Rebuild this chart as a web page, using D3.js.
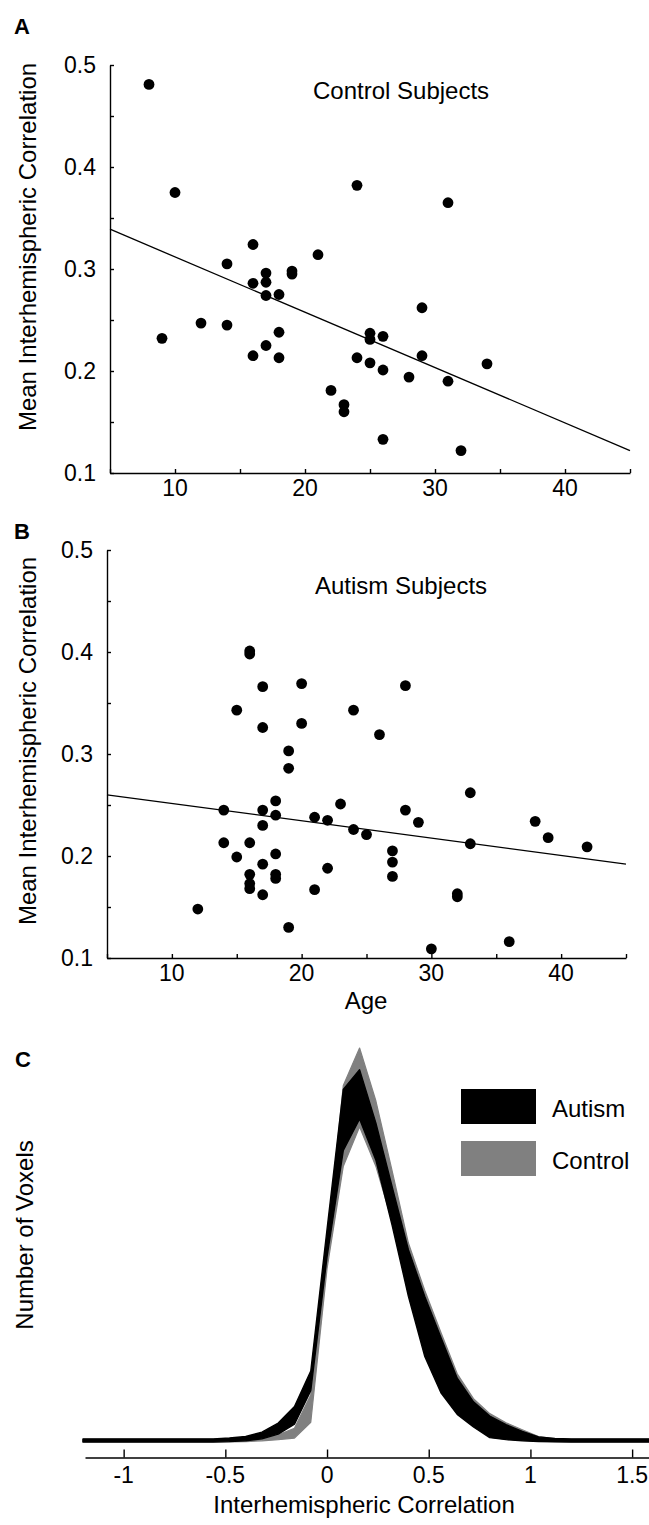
<!DOCTYPE html>
<html><head><meta charset="utf-8">
<script src="https://cdn.jsdelivr.net/npm/d3@7"></script>
<style>
html,body{margin:0;padding:0;background:#fff;}
svg{display:block;}
text{font-family:"Liberation Sans",Arial,Helvetica,sans-serif;fill:#000;}
</style></head>
<body>
<svg id="chart" width="649" height="1525"></svg>
<script>
// ---------- DATA ----------
const controlAge = [8,10,24,31,16,21,14,17,19,19,16,17,17,18,29,12,14,9,18,17,16,18,24,25,25,26,25,26,29,28,31,34,22,23,23,26,32];
const controlCorr = [0.481,0.375,0.382,0.365,0.324,0.314,0.305,0.296,0.298,0.295,0.286,0.287,0.274,0.275,0.262,0.247,0.245,0.232,0.238,0.225,0.215,0.213,0.213,0.237,0.231,0.234,0.208,0.201,0.215,0.194,0.190,0.207,0.181,0.167,0.160,0.133,0.122];
const autismAge = [16,16,17,20,28,15,24,17,20,26,19,19,33,23,18,14,17,28,18,21,22,29,38,17,24,25,39,14,16,33,42,27,18,15,27,17,22,16,18,18,27,16,16,21,17,32,32,12,19,36,30];
const autismCorr = [0.401,0.398,0.366,0.369,0.367,0.343,0.343,0.326,0.330,0.319,0.303,0.286,0.262,0.251,0.254,0.245,0.245,0.245,0.240,0.238,0.235,0.233,0.234,0.230,0.226,0.221,0.218,0.213,0.213,0.212,0.209,0.205,0.202,0.199,0.194,0.192,0.188,0.182,0.182,0.178,0.180,0.173,0.168,0.167,0.162,0.163,0.160,0.148,0.130,0.116,0.109];
// fitted lines: value at age 5 and slope per year
const controlFit = [0.339, -0.005425];
const autismFit = [0.260, -0.0017];

const ageTicks = [10,20,30,40];
const corrTicks = [0.1,0.2,0.3,0.4,0.5];
const histTicks = [-1,-0.5,0,0.5,1,1.5];
const histTickLabels = ["-1","-0.5","0","0.5","1","1.5"];

// histogram envelopes (number of voxels, arbitrary units)
const corrGrid  = [-1.2,-0.56,-0.48,-0.40,-0.32,-0.24,-0.16,-0.08,0,0.08,0.16,0.24,0.32,0.40,0.48,0.56,0.64,0.72,0.80,0.88,0.96,1.04,1.12,1.20,1.60];
const autismLo  = [0,0,0.1,0.3,0.8,2.0,4.5,13,47,74,82,71.6,55,37,21.8,12.5,7,3.8,1.1,0.6,0.3,0.1,0.05,0,0];
const autismHi  = [0.8,0.8,1.0,1.4,2.5,4.8,9,18,54,89.5,94.5,81,64.8,48.8,37,26.5,16.2,10.2,6.6,4.4,2.7,1.3,0.9,0.8,0.8];
const controlLo = [0,0,0,0.1,0.3,0.6,1.0,5,44,70,80,70,56,38,23,13.5,7.5,4.2,1.5,0.8,0.4,0.2,0.1,0,0];
const controlHi = [0.6,0.6,0.7,0.8,1.2,1.8,3.5,12,50,90.5,100,86.6,68.8,50.5,38.5,27.8,17.3,11,7.2,4.9,3.1,1.4,0.8,0.6,0.6];
const legendLabels = ["Autism","Control"];
const legendColors = ["#000000","#808080"];

// ---------- DRAW ----------
const svg = d3.select("#chart");
const FS = 23, TFS = 24;

function scatterPanel(o){
  const x = d3.scaleLinear().domain([5,45]).range([o.x0,o.x1]);
  const y = d3.scaleLinear().domain([0.1,0.5]).range([o.y0,o.y1]);
  const g = svg.append("g");
  const xa = g.append("g").attr("transform",`translate(0,${o.y0})`)
    .call(d3.axisBottom(x).tickValues(d3.range(5,45.1,5)).tickSize(-4).tickSizeOuter(0).tickFormat(""));
  const ya = g.append("g").attr("transform",`translate(${o.x0},0)`)
    .call(d3.axisLeft(y).tickValues(d3.range(0.1,0.501,0.05)).tickSize(-4).tickSizeOuter(0).tickFormat(""));
  [xa,ya].forEach(a=>{a.select(".domain").attr("stroke","#000").attr("stroke-width",1.4);
    a.selectAll(".tick line").attr("stroke","#000").attr("stroke-width",1.4);});
  g.selectAll(".xl").data(ageTicks).join("text").attr("x",d=>x(d)).attr("y",o.y0+23)
    .attr("text-anchor","middle").attr("font-size",FS).text(d=>d);
  g.selectAll(".yl").data(corrTicks).join("text").attr("x",o.x0-14).attr("y",d=>y(d)).attr("dy","0.35em")
    .attr("text-anchor","end").attr("font-size",FS).text(d=>d3.format(".1f")(d));
  const fx=[5,45];
  g.append("line").attr("x1",x(fx[0])).attr("x2",x(fx[1]))
    .attr("y1",y(o.fit[0])).attr("y2",y(o.fit[0]+o.fit[1]*(fx[1]-5)))
    .attr("stroke","#000").attr("stroke-width",1.3);
  g.selectAll("circle").data(o.ages).join("circle")
    .attr("cx",d=>x(d)).attr("cy",(d,i)=>y(o.vals[i])).attr("r",5.4).attr("fill","#000");
  g.append("text").attr("x",o.titleX).attr("y",o.titleY).attr("font-size",TFS).text(o.title);
  g.append("text").attr("transform",`translate(${o.ylabX},${o.ylabY}) rotate(-90)`)
    .attr("text-anchor","middle").attr("font-size",TFS).text("Mean Interhemispheric Correlation");
  g.append("text").attr("x",o.lx).attr("y",o.ly).attr("font-size",22).attr("font-weight","bold").text(o.letter);
  return {x,y};
}

scatterPanel({x0:110,x1:630,y0:473,y1:65,ages:controlAge,vals:controlCorr,fit:controlFit,
  title:"Control Subjects",titleX:313,titleY:99,ylabX:36,ylabY:247,letter:"A",lx:14,ly:34});
scatterPanel({x0:107,x1:626,y0:958,y1:550,ages:autismAge,vals:autismCorr,fit:autismFit,
  title:"Autism Subjects",titleX:315,titleY:594,ylabX:36,ylabY:741,letter:"B",lx:14,ly:539});
svg.append("text").attr("x",366).attr("y",1009).attr("text-anchor","middle").attr("font-size",TFS).text("Age");

// ---------- Panel C ----------
const hx = d3.scaleLinear().domain([-1.19,1.583]).range([85,649]);
const hy = d3.scaleLinear().domain([0,100]).range([1442,1048]);
const cg = svg.append("g");
const area = (lo,hi)=>d3.area().x((d,i)=>hx(corrGrid[i])).y0((d,i)=>hy(lo[i])).y1((d,i)=>hy(hi[i]));
cg.append("path").datum(corrGrid).attr("d",area(controlLo,controlHi))
  .attr("fill",legendColors[1]).attr("stroke",legendColors[1]).attr("stroke-width",1.2).attr("stroke-linejoin","round");
cg.append("path").datum(corrGrid).attr("d",area(autismLo,autismHi))
  .attr("fill",legendColors[0]).attr("stroke",legendColors[0]).attr("stroke-width",1.4).attr("stroke-linejoin","round");

const hxa = cg.append("g").attr("transform","translate(0,1457.5)")
  .call(d3.axisBottom(hx).tickValues(histTicks).tickSize(-8).tickSizeOuter(0).tickFormat(""));
hxa.select(".domain").attr("stroke","#000").attr("stroke-width",1.4);
hxa.selectAll(".tick line").attr("stroke","#000").attr("stroke-width",1.4);
cg.selectAll(".hl").data(histTicks).join("text").attr("x",d=>hx(d)).attr("y",1483)
  .attr("text-anchor","middle").attr("font-size",FS).text((d,i)=>histTickLabels[i]);
cg.append("text").attr("x",364).attr("y",1513).attr("text-anchor","middle").attr("font-size",TFS).text("Interhemispheric Correlation");
cg.append("text").attr("transform","translate(33,1235) rotate(-90)").attr("text-anchor","middle")
  .attr("font-size",TFS).text("Number of Voxels");
cg.append("text").attr("x",15).attr("y",1067).attr("font-size",22).attr("font-weight","bold").text("C");

const lg = cg.selectAll(".lg").data(legendLabels).join("g").attr("transform",(d,i)=>`translate(461,${1089+i*52})`);
lg.append("rect").attr("width",75).attr("height",35).attr("fill",(d,i)=>legendColors[i]);
lg.append("text").attr("x",91).attr("y",28).attr("font-size",TFS).text(d=>d);
</script>
</body></html>
